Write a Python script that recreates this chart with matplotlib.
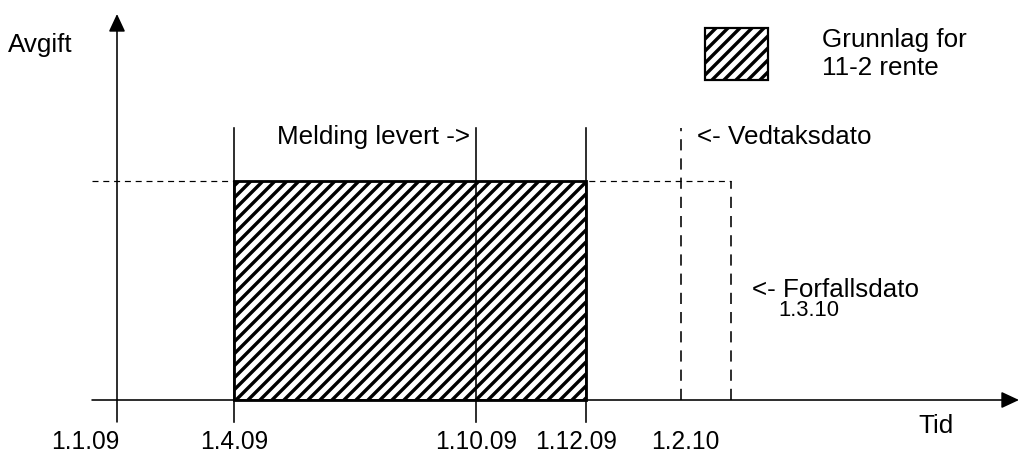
import matplotlib
matplotlib.use("Agg")
import matplotlib.pyplot as plt
from matplotlib.patches import Rectangle

# ---- data (schematic time axis; x in diagram units, y = fee level) ----
date_labels = ['1.1.09', '1.4.09', '1.10.09', '1.12.09', '1.2.10']
date_pos = [117, 234, 476, 586, 681]
due_date_label = '1.3.10'
due_date_pos = 731
basis_start = 234      # 1.4.09
basis_end = 586        # 1.12.09
fee_level = 219
annotations = ['Melding levert ->', '<- Vedtaksdato', '<- Forfallsdato']
legend_text = 'Grunnlag for\n11-2 rente'

plt.rcParams['font.family'] = ['Liberation Sans', 'DejaVu Sans']
plt.rcParams['hatch.linewidth'] = 3.4

DPI = 72
fig = plt.figure(figsize=(1020 / DPI, 454 / DPI), dpi=DPI)
ax = fig.add_axes([0, 0, 1, 1])
ax.set_xlim(0, 1020)
ax.set_ylim(-54, 400)
ax.axis('off')

lw = 1.6
top_tick = 272
below = -22
FS = 26

# axes with arrows
ax.annotate('', xy=(date_pos[0], 386), xytext=(date_pos[0], below),
            arrowprops=dict(arrowstyle='-|>,head_length=0.75,head_width=0.35',
                            lw=lw, color='k', shrinkA=0, shrinkB=0,
                            mutation_scale=20))
ax.annotate('', xy=(1019, 0), xytext=(92, 0),
            arrowprops=dict(arrowstyle='-|>,head_length=0.75,head_width=0.35',
                            lw=lw, color='k', shrinkA=0, shrinkB=0,
                            mutation_scale=20))

# hatched basis rectangle
ax.add_patch(Rectangle((basis_start, 0), basis_end - basis_start, fee_level,
                       facecolor='white', edgecolor='black', hatch='//',
                       lw=2.8, zorder=2))

# solid date lines
for x in date_pos[1:4]:
    ax.plot([x, x], [below, top_tick], color='k', lw=lw, zorder=3)

# dashed lines
ax.plot([92, due_date_pos], [fee_level, fee_level], color='k', lw=1.2,
        dashes=(5, 4), zorder=1)
ax.plot([date_pos[4], date_pos[4]], [0, top_tick], color='k', lw=1.6,
        dashes=(7, 5), zorder=3)
ax.plot([due_date_pos, due_date_pos], [0, fee_level], color='k', lw=1.6,
        dashes=(7, 5), zorder=3)

# tick labels
label_offsets = [-32, 0, 0, -10, 4]
for lab, x, dx in zip(date_labels, date_pos, label_offsets):
    ax.text(x + dx, -42, lab, ha='center', va='center', fontsize=24.5)

# axis titles
ax.text(8, 355, 'Avgift', ha='left', va='center', fontsize=FS)
ax.text(936, -26, 'Tid', ha='center', va='center', fontsize=FS)

# annotations
ax.text(277, 263, annotations[0], ha='left', va='center', fontsize=FS)
ax.text(697, 263, annotations[1], ha='left', va='center', fontsize=FS)
ax.text(752, 110, annotations[2], ha='left', va='center', fontsize=FS)
ax.text(778, 89, due_date_label, ha='left', va='center', fontsize=22)

# legend
ax.add_patch(Rectangle((705, 320), 63, 52, facecolor='white',
                       edgecolor='black', hatch='//', lw=2.2))
ax.text(822, 346, legend_text, ha='left', va='center', fontsize=FS,
        linespacing=1.22)

fig.savefig('out.png', dpi=DPI)
